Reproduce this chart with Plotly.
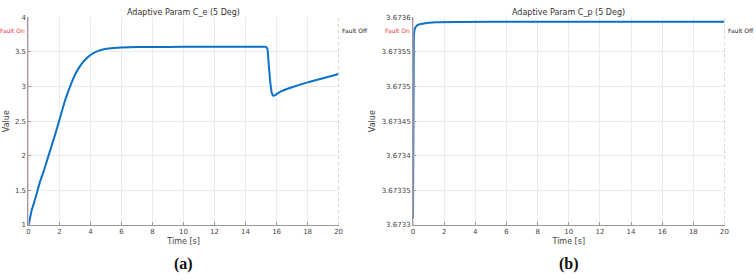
import plotly.graph_objects as go
from plotly.subplots import make_subplots

# Panel (a): adaptive parameter C_e
t_e = [0, 0.05, 0.1, 0.2, 0.3, 0.5, 0.75, 1, 1.25, 1.5, 1.75, 2, 2.25, 2.5, 2.75, 3, 3.25,
       3.5, 3.75, 4, 4.25, 4.5, 5, 5.5, 6, 7, 8, 10, 12, 14, 15, 15.3, 15.4, 15.5, 15.6,
       15.7, 15.8, 15.9, 16.2, 16.5, 17, 18, 19, 20]
v_e = [1, 1.05, 1.1, 1.21, 1.28, 1.43, 1.63, 1.79, 1.97, 2.15, 2.33, 2.52, 2.72, 2.89, 3.04,
       3.17, 3.27, 3.35, 3.41, 3.455, 3.49, 3.515, 3.545, 3.558, 3.565, 3.57, 3.572, 3.573,
       3.573, 3.573, 3.573, 3.572, 3.55, 3.3, 3.05, 2.9, 2.865, 2.875, 2.92, 2.95, 2.99,
       3.06, 3.12, 3.18]

# Panel (b): adaptive parameter C_p
t_p = [0, 0.005, 0.01, 0.02, 0.03, 0.05, 0.08, 0.12, 0.2, 0.3, 0.5, 0.75, 1, 1.5, 2, 3, 5, 10, 20]
v_p = [3.673309, 3.67340, 3.67348, 3.67353, 3.67356, 3.673572, 3.67358, 3.673584, 3.673587,
       3.673589, 3.6735905, 3.6735915, 3.673592, 3.6735928, 3.6735932, 3.6735934,
       3.6735935, 3.6735935, 3.6735935]

titles = ["Adaptive Param C_e (5 Deg)", "Adaptive Param C_p (5 Deg)"]
x_ticks = [0, 2, 4, 6, 8, 10, 12, 14, 16, 18, 20]
y_ticks_e = [1, 1.5, 2, 2.5, 3, 3.5, 4]
y_ticks_p = [3.6733, 3.67335, 3.6734, 3.67345, 3.6735, 3.67355, 3.6736]
y_labels_p = ["3.6733", "3.67335", "3.6734", "3.67345", "3.6735", "3.67355", "3.6736"]
captions = ["(a)", "(b)"]

W, H = 756, 280
fig = make_subplots(rows=1, cols=2)

fig.add_trace(go.Scatter(x=t_e, y=v_e, mode="lines",
                         line=dict(color="#0a72c8", width=2, shape="spline", smoothing=0.5),
                         showlegend=False), row=1, col=1)
fig.add_trace(go.Scatter(x=t_p, y=v_p, mode="lines", line=dict(color="#0a72c8", width=2),
                         showlegend=False), row=1, col=2)

xd = [(26.7 / W, 339.3 / W), (414.3 / W, 728.3 / W)]
yd = (1 - 227.5 / H, 1 - 13.7 / H)

tick_font = dict(family="DejaVu Sans", size=7, color="#444")
common_x = dict(range=[0, 20], tickvals=x_ticks, showgrid=True, gridcolor="#ebebeb",
                gridwidth=1, zeroline=False, showline=True, linecolor="#9a9a9a",
                ticks="inside", ticklen=3, tickcolor="#9a9a9a", tickfont=tick_font,
                title=dict(text="Time [s]", font=dict(family="DejaVu Sans", size=8, color="#444"),
                           standoff=2))
fig.update_xaxes(common_x)
fig.update_layout(xaxis=dict(domain=list(xd[0])), xaxis2=dict(domain=list(xd[1])))

ycommon = dict(showgrid=True, gridcolor="#ebebeb", zeroline=False, showline=True,
               linecolor="#9a9a9a", ticks="inside", ticklen=3, tickcolor="#9a9a9a",
               tickfont=tick_font, domain=list(yd),
               title=dict(text="Value", font=dict(family="DejaVu Sans", size=8, color="#444"),
                          standoff=4))
fig.update_layout(
    yaxis=dict(ycommon, range=[1, 4], tickvals=y_ticks_e),
    yaxis2=dict(ycommon, range=[3.6733, 3.6736], tickvals=y_ticks_p, ticktext=y_labels_p),
)

shapes = []
annots = []
for i, (xr, yr) in enumerate([("x", "y"), ("x2", "y2")]):
    shapes.append(dict(type="line", xref=xr, yref=yr + " domain", x0=0, x1=0, y0=0, y1=1,
                       line=dict(color="#e8a0a8", width=1)))
    shapes.append(dict(type="line", xref=xr, yref=yr + " domain", x0=20, x1=20, y0=0, y1=1,
                       line=dict(color="#b0b0b0", width=1, dash="dot")))
    annots.append(dict(xref=xr, yref=yr + " domain", x=0, y=0.937, text="Fault On",
                       showarrow=False, xanchor="right", yanchor="middle", xshift=-1,
                       font=dict(family="DejaVu Sans", size=6, color="#f03040")))
    annots.append(dict(xref=xr, yref=yr + " domain", x=20, y=0.937, text="Fault Off",
                       showarrow=False, xanchor="left", yanchor="middle", xshift=1,
                       font=dict(family="DejaVu Sans", size=6, color="#222")))
    cx = (xd[i][0] + xd[i][1]) / 2
    annots.append(dict(xref="paper", yref="paper", x=cx, y=1 - 9 / H, text=titles[i],
                       showarrow=False, xanchor="center", yanchor="middle",
                       font=dict(family="DejaVu Sans", size=8, color="#333")))
    annots.append(dict(xref="paper", yref="paper", x=cx, y=1 - 268 / H,
                       text="<b>" + captions[i] + "</b>", showarrow=False,
                       xanchor="center", yanchor="middle",
                       font=dict(family="Liberation Serif", size=16, color="#111")))

fig.update_layout(width=W, height=H, margin=dict(l=0, r=0, t=0, b=0),
                  paper_bgcolor="white", plot_bgcolor="white",
                  shapes=shapes, annotations=annots)

fig.write_html("out.html")
